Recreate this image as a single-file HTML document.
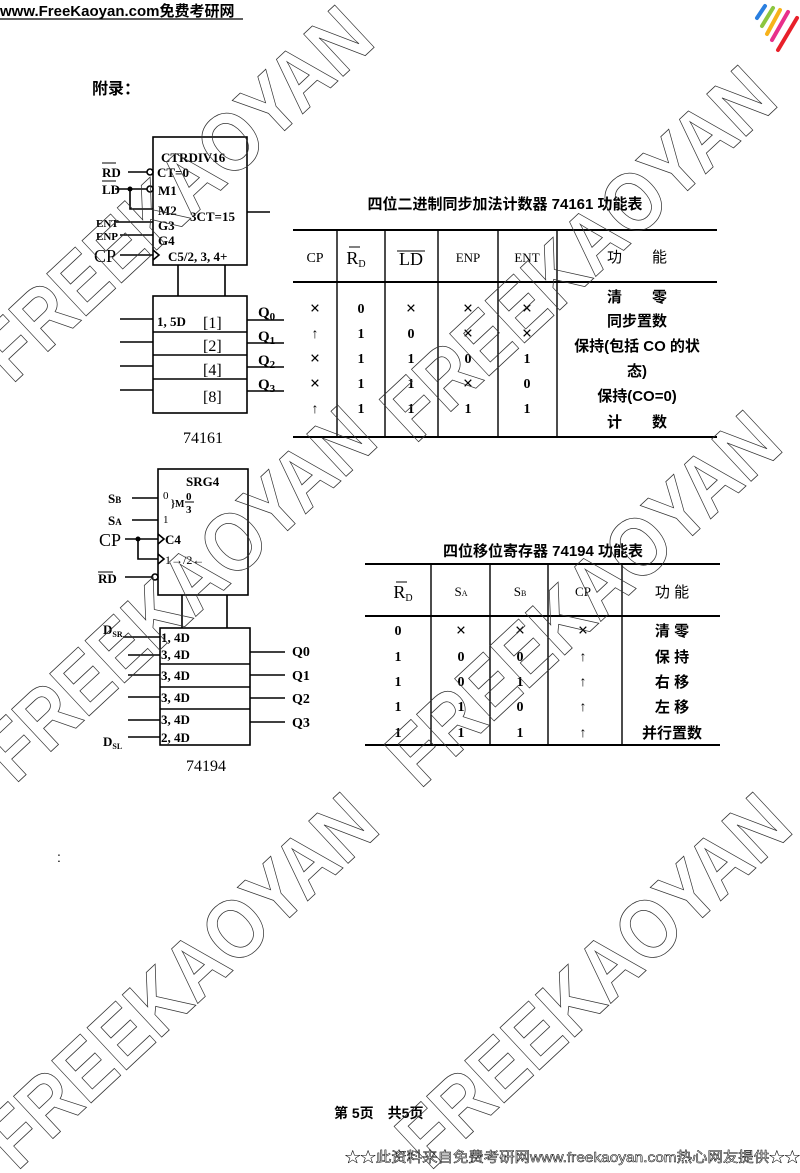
<!DOCTYPE html>
<html><head><meta charset="utf-8"><style>
html,body{margin:0;padding:0;background:#fff;}
svg{display:block}
.s{font-family:"Liberation Serif","Noto Serif CJK SC",serif;fill:#000}
.b{font-weight:bold}
.c{font-family:"Liberation Sans","Noto Sans CJK SC",sans-serif;fill:#000}
.wm{font-family:"Liberation Sans",sans-serif;font-weight:bold;font-size:84px;fill:none;stroke:#333;stroke-width:0.8}
.x{font-size:18px}
</style></head><body>
<svg width="800" height="1173" viewBox="0 0 800 1173" xmlns="http://www.w3.org/2000/svg">
<text x="0" y="16" class="c" font-size="15" font-weight="bold">www.FreeKaoyan.com免费考研网</text>
<line x1="0" y1="19" x2="243" y2="19" stroke="#000" stroke-width="1.2"/>
<g stroke-width="4" stroke-linecap="round">
<line x1="757" y1="18" x2="765" y2="6" stroke="#2a7fe0"/>
<line x1="762" y1="26" x2="773" y2="8" stroke="#8cc63f"/>
<line x1="767" y1="34" x2="780" y2="10" stroke="#f7b21b"/>
<line x1="772" y1="40" x2="788" y2="12" stroke="#e8308a"/>
<line x1="778" y1="50" x2="797" y2="18" stroke="#e8202a"/>
</g>
<text x="92" y="94" class="c b" font-size="16">附录：</text>

<g stroke="#000" stroke-width="1.6" fill="none">
<rect x="153" y="137" width="94" height="128"/>
<line x1="247" y1="212" x2="270" y2="212"/>
<line x1="128" y1="172" x2="147" y2="172"/><circle cx="150" cy="172" r="3"/>
<line x1="115" y1="189" x2="147" y2="189"/><circle cx="150" cy="189" r="3"/>
<polyline points="130,189 130,209 153,209"/>
<line x1="115" y1="222" x2="153" y2="222"/>
<line x1="120" y1="235" x2="153" y2="235"/>
<line x1="120" y1="255" x2="153" y2="255"/>
<polyline points="153,250 159,255 153,260"/>
<line x1="178" y1="265" x2="178" y2="296"/>
<line x1="225" y1="265" x2="225" y2="296"/>
<rect x="153" y="296" width="94" height="117"/>
<line x1="153" y1="332" x2="247" y2="332"/>
<line x1="153" y1="355" x2="247" y2="355"/>
<line x1="153" y1="379" x2="247" y2="379"/>
<line x1="120" y1="319" x2="153" y2="319"/>
<line x1="120" y1="342" x2="153" y2="342"/>
<line x1="120" y1="366" x2="153" y2="366"/>
<line x1="120" y1="390" x2="153" y2="390"/>
<line x1="247" y1="320" x2="284" y2="320"/>
<line x1="247" y1="343" x2="284" y2="343"/>
<line x1="247" y1="367" x2="284" y2="367"/>
<line x1="247" y1="391" x2="284" y2="391"/>
</g>
<circle cx="130" cy="189" r="2.5" fill="#000"/>
<g class="s b" font-size="13">
<text x="161" y="162">CTRDIV16</text>
<text x="157" y="177">CT=0</text>
<text x="158" y="195">M1</text>
<text x="158" y="215">M2</text>
<text x="158" y="230">G3</text>
<text x="158" y="245">G4</text>
<text x="168" y="261">C5/2, 3, 4+</text>
<text x="190" y="221">3CT=15</text>
<text x="102" y="177">RD</text>
<text x="102" y="194">LD</text>
<text x="96" y="227" font-size="11">ENT</text>
<text x="96" y="240" font-size="11">ENP</text>
<text x="94" y="262" font-size="18" font-weight="normal">CP</text>
<text x="157" y="326">1, 5D</text>
<text x="203" y="328" font-size="16" font-weight="normal">[1]</text>
<text x="203" y="351" font-size="16" font-weight="normal">[2]</text>
<text x="203" y="375" font-size="16" font-weight="normal">[4]</text>
<text x="203" y="402" font-size="16" font-weight="normal">[8]</text>
<text x="258" y="317" font-size="15">Q<tspan font-size="11" dy="3">0</tspan></text>
<text x="258" y="341" font-size="15">Q<tspan font-size="11" dy="3">1</tspan></text>
<text x="258" y="365" font-size="15">Q<tspan font-size="11" dy="3">2</tspan></text>
<text x="258" y="389" font-size="15">Q<tspan font-size="11" dy="3">3</tspan></text>
<text x="183" y="443" font-size="16" font-weight="normal">74161</text>
</g>
<line x1="102" y1="163" x2="116" y2="163" stroke="#000"/>
<line x1="102" y1="181" x2="116" y2="181" stroke="#000"/>

<g stroke="#000" stroke-width="1.6" fill="none">
<rect x="158" y="469" width="90" height="126"/>
<line x1="132" y1="498" x2="158" y2="498"/>
<line x1="132" y1="520" x2="158" y2="520"/>
<line x1="125" y1="539" x2="158" y2="539"/>
<polyline points="138,539 138,559 158,559"/>
<polyline points="158,534 164,539 158,544"/>
<polyline points="158,554 164,559 158,564"/>
<line x1="125" y1="577" x2="152" y2="577"/><circle cx="155" cy="577" r="3"/>
<line x1="182" y1="595" x2="182" y2="628"/>
<line x1="227" y1="595" x2="227" y2="628"/>
<rect x="160" y="628" width="90" height="117"/>
<line x1="160" y1="664" x2="250" y2="664"/>
<line x1="160" y1="687" x2="250" y2="687"/>
<line x1="160" y1="709" x2="250" y2="709"/>
<line x1="123" y1="637" x2="160" y2="637"/>
<line x1="128" y1="655" x2="160" y2="655"/>
<line x1="128" y1="675" x2="160" y2="675"/>
<line x1="128" y1="697" x2="160" y2="697"/>
<line x1="128" y1="720" x2="160" y2="720"/>
<line x1="128" y1="737" x2="160" y2="737"/>
<line x1="250" y1="652" x2="285" y2="652"/>
<line x1="250" y1="675" x2="285" y2="675"/>
<line x1="250" y1="698" x2="285" y2="698"/>
<line x1="250" y1="722" x2="285" y2="722"/>
</g>
<circle cx="138" cy="539" r="2.5" fill="#000"/>
<g class="s b" font-size="13">
<text x="186" y="486">SRG4</text>
<text x="163" y="499" font-size="11" font-weight="normal">0</text>
<text x="163" y="523" font-size="11" font-weight="normal">1</text>
<text x="171" y="507" font-size="10">}M</text>
<text x="186" y="500" font-size="11">0</text>
<line x1="185" y1="502" x2="194" y2="502" stroke="#000"/>
<text x="186" y="513" font-size="11">3</text>
<text x="165" y="544">C4</text>
<text x="165" y="564" font-size="12" font-weight="normal">1→/2←</text>
<text x="108" y="503">S<tspan font-size="9">B</tspan></text>
<text x="108" y="525">S<tspan font-size="9">A</tspan></text>
<text x="99" y="546" font-size="18" font-weight="normal">CP</text>
<text x="98" y="583">RD</text>
<line x1="98" y1="572" x2="113" y2="572" stroke="#000"/>
<text x="161" y="642">1, 4D</text>
<text x="161" y="659">3, 4D</text>
<text x="161" y="680">3, 4D</text>
<text x="161" y="702">3, 4D</text>
<text x="161" y="724">3, 4D</text>
<text x="161" y="742">2, 4D</text>
<text x="292" y="656" font-size="14">Q0</text>
<text x="292" y="680" font-size="14">Q1</text>
<text x="292" y="703" font-size="14">Q2</text>
<text x="292" y="727" font-size="14">Q3</text>
<text x="103" y="634">D<tspan font-size="8" dy="3">SR</tspan></text>
<text x="103" y="746">D<tspan font-size="8" dy="3">SL</tspan></text>
<text x="186" y="771" font-size="16" font-weight="normal">74194</text>
</g>

<text x="505" y="209" class="c b" font-size="15" text-anchor="middle">四位二进制同步加法计数器 74161 功能表</text>
<g stroke="#000" fill="none">
<line x1="293" y1="230" x2="717" y2="230" stroke-width="2"/>
<line x1="293" y1="282" x2="717" y2="282" stroke-width="2"/>
<line x1="293" y1="437" x2="717" y2="437" stroke-width="2"/>
<g stroke-width="1.4">
<line x1="337" y1="230" x2="337" y2="437"/>
<line x1="385" y1="230" x2="385" y2="437"/>
<line x1="438" y1="230" x2="438" y2="437"/>
<line x1="498" y1="230" x2="498" y2="437"/>
<line x1="557" y1="230" x2="557" y2="437"/>
</g>
<line x1="349" y1="247" x2="360" y2="247"/>
<line x1="397" y1="251" x2="425" y2="251"/>
</g>
<g class="s b" font-size="14" text-anchor="middle">
<text x="315" y="262" font-weight="normal">CP</text>
<text x="356" y="264" font-size="18" font-weight="normal">R<tspan font-size="10" dy="3">D</tspan></text>
<text x="411" y="265" font-size="18" font-weight="normal">LD</text>
<text x="468" y="262" font-size="13" font-weight="normal">ENP</text>
<text x="527" y="262" font-size="13" font-weight="normal">ENT</text>
<text x="637" y="262" class="c" font-size="15" font-weight="normal">功　　能</text>
<text class="x" x="315" y="314">×</text><text x="361" y="313">0</text><text class="x" x="411" y="314">×</text><text class="x" x="468" y="314">×</text><text class="x" x="527" y="314">×</text>
<text x="315" y="338">↑</text><text x="361" y="338">1</text><text x="411" y="338">0</text><text class="x" x="468" y="339">×</text><text class="x" x="527" y="339">×</text>
<text class="x" x="315" y="364">×</text><text x="361" y="363">1</text><text x="411" y="363">1</text><text x="468" y="363">0</text><text x="527" y="363">1</text>
<text class="x" x="315" y="389">×</text><text x="361" y="388">1</text><text x="411" y="388">1</text><text class="x" x="468" y="389">×</text><text x="527" y="388">0</text>
<text x="315" y="413">↑</text><text x="361" y="413">1</text><text x="411" y="413">1</text><text x="468" y="413">1</text><text x="527" y="413">1</text>
</g>
<g class="c b" font-size="15" text-anchor="middle">
<text x="637" y="302">清　　零</text>
<text x="637" y="326">同步置数</text>
<text x="637" y="351">保持(包括 CO 的状</text>
<text x="637" y="376">态)</text>
<text x="637" y="401">保持(CO=0)</text>
<text x="637" y="427">计　　数</text>
</g>

<text x="543" y="556" class="c b" font-size="15" text-anchor="middle">四位移位寄存器 74194 功能表</text>
<g stroke="#000" fill="none">
<line x1="365" y1="564" x2="720" y2="564" stroke-width="2"/>
<line x1="365" y1="616" x2="720" y2="616" stroke-width="2"/>
<line x1="365" y1="745" x2="720" y2="745" stroke-width="2"/>
<g stroke-width="1.4">
<line x1="431" y1="564" x2="431" y2="745"/>
<line x1="490" y1="564" x2="490" y2="745"/>
<line x1="548" y1="564" x2="548" y2="745"/>
<line x1="622" y1="564" x2="622" y2="745"/>
</g>
<line x1="396" y1="582" x2="407" y2="582"/>
</g>
<g class="s b" font-size="14" text-anchor="middle">
<text x="403" y="598" font-size="18" font-weight="normal">R<tspan font-size="10" dy="3">D</tspan></text>
<text x="461" y="596" font-size="13" font-weight="normal">S<tspan font-size="8">A</tspan></text>
<text x="520" y="596" font-size="13" font-weight="normal">S<tspan font-size="8">B</tspan></text>
<text x="583" y="596" font-size="13" font-weight="normal">CP</text>
<text x="672" y="597" class="c" font-size="15" font-weight="normal">功 能</text>
<text x="398" y="635">0</text><text class="x" x="461" y="636">×</text><text class="x" x="520" y="636">×</text><text class="x" x="583" y="636">×</text>
<text x="398" y="661">1</text><text x="461" y="661">0</text><text x="520" y="661">0</text><text x="583" y="661">↑</text>
<text x="398" y="686">1</text><text x="461" y="686">0</text><text x="520" y="686">1</text><text x="583" y="686">↑</text>
<text x="398" y="711">1</text><text x="461" y="711">1</text><text x="520" y="711">0</text><text x="583" y="711">↑</text>
<text x="398" y="737">1</text><text x="461" y="737">1</text><text x="520" y="737">1</text><text x="583" y="737">↑</text>
</g>
<g class="c b" font-size="15" text-anchor="middle">
<text x="672" y="636">清 零</text>
<text x="672" y="662">保 持</text>
<text x="672" y="687">右 移</text>
<text x="672" y="712">左 移</text>
<text x="672" y="738">并行置数</text>
</g>

<text x="57" y="862" class="c" font-size="14">:</text>

<text x="334" y="1118" class="c b" font-size="14">第 5页　共5页</text>
<text x="345" y="1162" font-size="14" style="font-family:'Liberation Sans','Noto Sans CJK SC',sans-serif;fill:none;stroke:#000;stroke-width:0.5" textLength="455" lengthAdjust="spacingAndGlyphs">★★此资料来自免费考研网www.freekaoyan.com热心网友提供★★</text>

<g class="wm">
<text transform="translate(12,385) rotate(-43)" textLength="500" lengthAdjust="spacingAndGlyphs">FREEKAOYAN</text>
<text transform="translate(415,445) rotate(-43)" textLength="500" lengthAdjust="spacingAndGlyphs">FREEKAOYAN</text>
<text transform="translate(15,785) rotate(-43)" textLength="500" lengthAdjust="spacingAndGlyphs">FREEKAOYAN</text>
<text transform="translate(420,790) rotate(-43)" textLength="500" lengthAdjust="spacingAndGlyphs">FREEKAOYAN</text>
<text transform="translate(17,1172) rotate(-43)" textLength="500" lengthAdjust="spacingAndGlyphs">FREEKAOYAN</text>
<text transform="translate(430,1172) rotate(-43)" textLength="500" lengthAdjust="spacingAndGlyphs">FREEKAOYAN</text>
</g>
</svg>
</body></html>
